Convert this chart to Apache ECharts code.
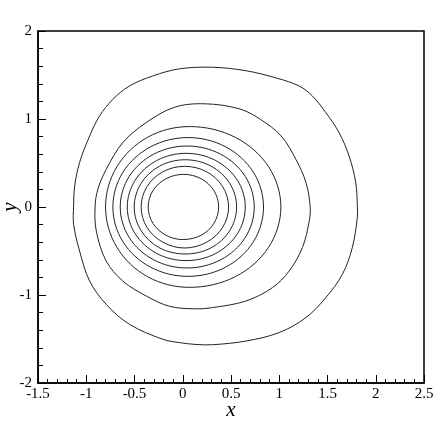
<!DOCTYPE html>
<html>
<head>
<meta charset="utf-8">
<script src="https://cdn.jsdelivr.net/npm/echarts@6/dist/echarts.min.js"></script>
<style>
  html, body { margin: 0; padding: 0; background: #fff; }
  #chart { width: 443px; height: 424px; }
</style>
</head>
<body>
<div id="chart"></div>
<script>
// contour lines as [x, y] points (outer to inner)
const contour1 = [
  [0.307, 1.588], [0.658, 1.548], [0.979, 1.463], [1.206, 1.375], [1.344, 1.261],
  [1.482, 1.073], [1.620, 0.845], [1.723, 0.580], [1.793, 0.277], [1.809, 0.011],
  [1.809, -0.120], [1.757, -0.461], [1.654, -0.765], [1.482, -1.030], [1.276, -1.257],
  [0.999, -1.427], [0.655, -1.523], [0.310, -1.565], [0.138, -1.562], [-0.035, -1.541],
  [-0.207, -1.503], [-0.552, -1.333], [-0.793, -1.106], [-0.965, -0.841], [-1.069, -0.500],
  [-1.131, -0.197], [-1.131, 0.011], [-1.120, 0.239], [-1.069, 0.505], [-0.965, 0.807],
  [-0.862, 1.034], [-0.724, 1.224], [-0.552, 1.375], [-0.311, 1.489], [-0.035, 1.570]
]
const contour2 = [
  [0.224, 1.173], [0.586, 1.116], [0.803, 0.997], [1.020, 0.807], [1.172, 0.542],
  [1.276, 0.281], [1.320, 0.008], [1.310, -0.163], [1.240, -0.461], [1.103, -0.727],
  [0.930, -0.916], [0.655, -1.068], [0.310, -1.143], [0.120, -1.157], [-0.138, -1.128],
  [-0.379, -1.011], [-0.621, -0.841], [-0.793, -0.614], [-0.896, -0.273], [-0.908, 0.008],
  [-0.880, 0.201], [-0.793, 0.428], [-0.621, 0.732], [-0.379, 0.959], [-0.086, 1.133]
]
const contour3 = [
  [1.017, 0], [0.890, 0.457], [0.544, 0.792], [0.070, 0.914], [-0.365, 0.792], [-0.683, 0.457],
  [-0.800, 0], [-0.683, -0.457], [-0.365, -0.792], [0.070, -0.913], [0.544, -0.792], [0.890, -0.457]
]
const contour4 = [
  [0.837, 0], [0.732, 0.395], [0.446, 0.683], [0.055, 0.789], [-0.335, 0.683], [-0.620, 0.395],
  [-0.724, 0], [-0.620, -0.395], [-0.335, -0.683], [0.055, -0.788], [0.446, -0.683], [0.732, -0.395]
]
const contour5 = [
  [0.741, 0], [0.648, 0.347], [0.393, 0.600], [0.045, 0.693], [-0.302, 0.600], [-0.555, 0.347],
  [-0.648, 0], [-0.555, -0.347], [-0.302, -0.600], [0.045, -0.693], [0.393, -0.600], [0.648, -0.347]
]
const contour6 = [
  [0.648, 0], [0.566, 0.305], [0.342, 0.528], [0.035, 0.610], [-0.270, 0.528], [-0.493, 0.305],
  [-0.575, 0], [-0.493, -0.305], [-0.270, -0.528], [0.035, -0.609], [0.342, -0.528], [0.566, -0.305]
]
const contour7 = [
  [0.558, 0], [0.487, 0.269], [0.292, 0.465], [0.025, 0.537], [-0.239, 0.465], [-0.432, 0.269],
  [-0.503, 0], [-0.432, -0.269], [-0.239, -0.465], [0.025, -0.534], [0.292, -0.465], [0.487, -0.269]
]
const contour8 = [
  [0.475, 0], [0.414, 0.231], [0.248, 0.400], [0.020, 0.462], [-0.206, 0.400], [-0.371, 0.231],
  [-0.431, 0], [-0.371, -0.231], [-0.206, -0.400], [0.020, -0.466], [0.248, -0.400], [0.414, -0.231]
]
const contour9 = [
  [0.372, 0], [0.323, 0.186], [0.191, 0.321], [0.010, 0.371], [-0.174, 0.321], [-0.309, 0.186],
  [-0.358, 0], [-0.309, -0.186], [-0.174, -0.321], [0.000, -0.370], [0.191, -0.321], [0.323, -0.186]
]
const contours = [contour1, contour2, contour3, contour4, contour5, contour6, contour7, contour8, contour9]

const serif = '"Liberation Serif", "DejaVu Serif", serif'

// closed smooth curve through the points, placed with the axes' own scales
const contourSeries = pts => ({
  type: 'custom',
  coordinateSystem: 'cartesian2d',
  data: pts,
  encode: { x: 0, y: 1 },
  silent: true,
  renderItem: (params, api) => {
    if (params.dataIndex !== 0) return null
    return {
      type: 'polygon',
      shape: { points: pts.map(p => api.coord(p)), smooth: 0.35 },
      style: { fill: 'none', stroke: '#222', lineWidth: 1 }
    }
  }
})

const chart = echarts.init(document.getElementById('chart'))
chart.setOption({
  animation: false,
  grid: {
    left: 38, right: 19, top: 31, bottom: 41,
    show: true, borderColor: '#000', borderWidth: 1.5,
    outerBoundsMode: 'none'
  },
  xAxis: {
    type: 'value', min: -1.5, max: 2.5, interval: 0.5,
    name: 'x', nameLocation: 'middle', nameGap: 17, nameMoveOverlap: false,
    nameTextStyle: { fontFamily: serif, fontStyle: 'italic', fontSize: 21, color: '#000' },
    axisLine: { show: true, onZero: false, lineStyle: { color: '#000', width: 1.5 } },
    axisTick: { show: true, inside: true, length: 8, lineStyle: { color: '#000' } },
    minorTick: { show: true, splitNumber: 5, length: 4, lineStyle: { color: '#000' } },
    splitLine: { show: false },
    axisLabel: { fontFamily: serif, fontSize: 15, color: '#000', margin: 4 }
  },
  yAxis: {
    type: 'value', min: -2, max: 2, interval: 1,
    name: 'y', nameLocation: 'middle', nameGap: 17, nameRotate: 90, nameMoveOverlap: false,
    nameTextStyle: { fontFamily: serif, fontStyle: 'italic', fontSize: 21, color: '#000' },
    axisLine: { show: true, onZero: false, lineStyle: { color: '#000', width: 1.5 } },
    axisTick: { show: true, inside: true, length: 8, lineStyle: { color: '#000' } },
    minorTick: { show: true, splitNumber: 5, length: 5, lineStyle: { color: '#000' } },
    splitLine: { show: false },
    axisLabel: { fontFamily: serif, fontSize: 15, color: '#000', margin: 6 }
  },
  series: contours.map(contourSeries)
})
</script>
</body>
</html>
